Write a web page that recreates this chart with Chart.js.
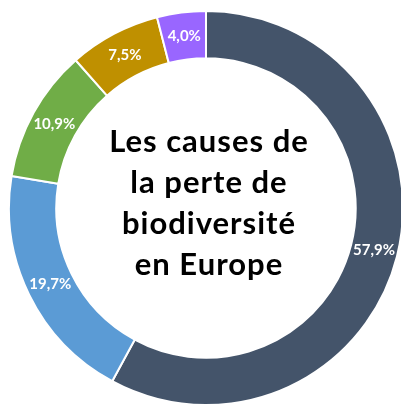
<!DOCTYPE html>
<html>
<head>
<meta charset="utf-8">
<script src="https://cdn.jsdelivr.net/npm/chart.js@4"></script>
<style>
html,body{margin:0;padding:0;width:401px;height:408px;overflow:hidden;background:#fff;}
#wrap{position:absolute;left:8px;top:10px;width:396px;height:396px;}
#title{position:absolute;left:59px;top:120px;width:300px;text-align:center;font-family:Lato,"Open Sans",sans-serif;font-weight:bold;font-size:31px;line-height:41px;letter-spacing:1px;color:#000;}
</style>
</head>
<body>
<div id="wrap"><canvas id="c"></canvas></div>
<div id="title">Les causes de<br>la perte de<br>biodiversité<br>en Europe</div>
<script>
const categories = ["Cause 1","Cause 2","Cause 3","Cause 4","Cause 5"];
const values = [57.9, 19.7, 10.9, 7.5, 4.0];
const valueLabels = ["57,9%","19,7%","10,9%","7,5%","4,0%"];
const colors = ["#44546A","#5B9BD5","#70AD47","#BF9000","#9966FF"];

const labelPlugin = {
  id: 'sliceLabels',
  afterDatasetsDraw(chart){
    const ctx = chart.ctx;
    const meta = chart.getDatasetMeta(0);
    ctx.save();
    ctx.fillStyle = '#fff';
    ctx.font = 'bold 15px Lato, "Open Sans", sans-serif';
    ctx.textAlign = 'center';
    ctx.textBaseline = 'middle';
    meta.data.forEach((arc, i) => {
      const p = arc.tooltipPosition();
      ctx.fillText(valueLabels[i], p.x, p.y);
    });
    ctx.restore();
  }
};

new Chart(document.getElementById('c'), {
  type: 'doughnut',
  data: {
    labels: categories,
    datasets: [{
      data: values,
      backgroundColor: colors,
      borderColor: '#fff',
      borderWidth: 2
    }]
  },
  options: {
    responsive: true,
    maintainAspectRatio: false,
    animation: false,
    cutout: '76%',
    layout: {padding: 0},
    plugins: {legend: {display: false}, tooltip: {enabled: false}}
  },
  plugins: [labelPlugin]
});
</script>
</body>
</html>
